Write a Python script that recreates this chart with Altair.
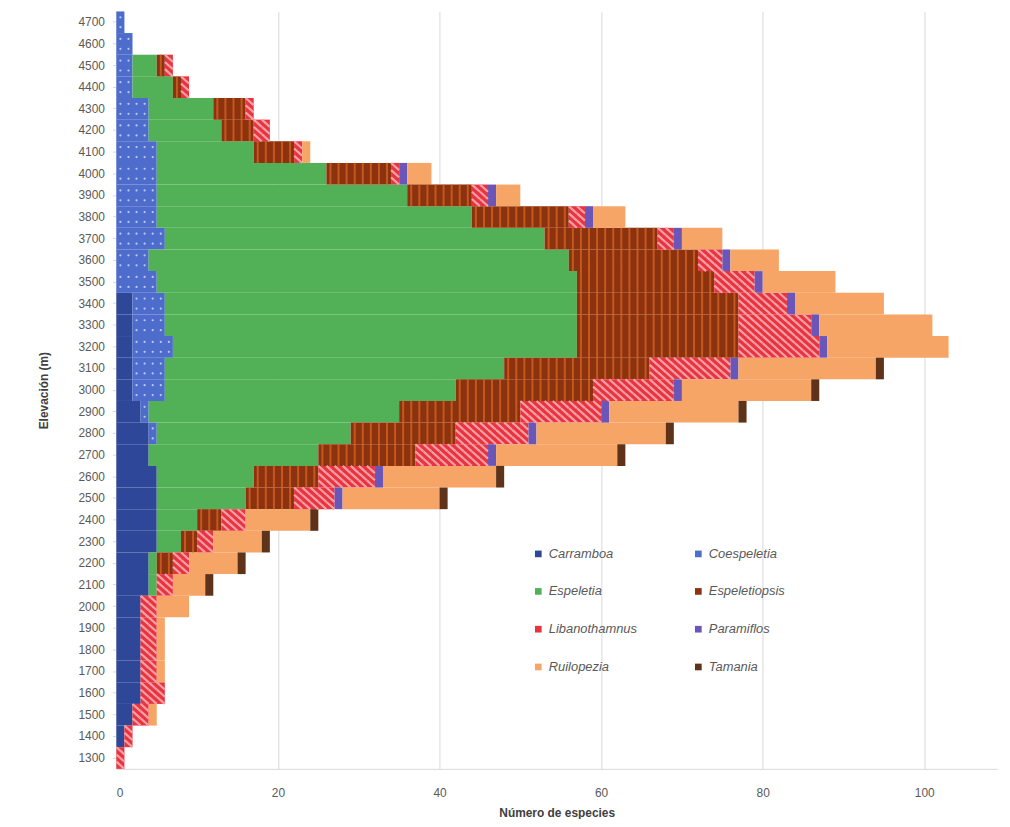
import altair as alt
import pandas as pd

elevations = [4700, 4600, 4500, 4400, 4300, 4200, 4100, 4000, 3900, 3800, 3700, 3600,
              3500, 3400, 3300, 3200, 3100, 3000, 2900, 2800, 2700, 2600, 2500, 2400,
              2300, 2200, 2100, 2000, 1900, 1800, 1700, 1600, 1500, 1400, 1300]

genera = ["Carramboa", "Coespeletia", "Espeletia", "Espeletiopsis",
          "Libanothamnus", "Paramiflos", "Ruilopezia", "Tamania"]
colors = ["#2E4799", "#4D6CCC", "#52B156", "#8C320E",
          "#E8343F", "#6A56B8", "#F6A566", "#5E3319"]

carramboa =     [0, 0, 0, 0, 0, 0, 0, 0, 0, 0, 0, 0, 0, 2, 2, 2, 2, 2, 3, 4, 4, 5, 5, 5, 5, 4, 4, 3, 3, 3, 3, 3, 2, 1, 0]
coespeletia =   [1, 2, 2, 2, 4, 4, 5, 5, 5, 5, 6, 4, 5, 4, 4, 5, 4, 4, 1, 1, 0, 0, 0, 0, 0, 0, 0, 0, 0, 0, 0, 0, 0, 0, 0]
espeletia =     [0, 0, 3, 5, 8, 9, 12, 21, 31, 39, 47, 52, 52, 51, 51, 50, 42, 36, 31, 24, 21, 12, 11, 5, 3, 1, 1, 0, 0, 0, 0, 0, 0, 0, 0]
espeletiopsis = [0, 0, 1, 1, 4, 4, 5, 8, 8, 12, 14, 16, 17, 20, 20, 20, 18, 17, 15, 13, 12, 8, 6, 3, 2, 2, 0, 0, 0, 0, 0, 0, 0, 0, 0]
libanothamnus = [0, 0, 1, 1, 1, 2, 1, 1, 2, 2, 2, 3, 5, 6, 9, 10, 10, 10, 10, 9, 9, 7, 5, 3, 2, 2, 2, 2, 2, 2, 2, 3, 2, 1, 1]
paramiflos =    [0, 0, 0, 0, 0, 0, 0, 1, 1, 1, 1, 1, 1, 1, 1, 1, 1, 1, 1, 1, 1, 1, 1, 0, 0, 0, 0, 0, 0, 0, 0, 0, 0, 0, 0]
ruilopezia =    [0, 0, 0, 0, 0, 0, 1, 3, 3, 4, 5, 6, 9, 11, 14, 15, 17, 16, 16, 16, 15, 14, 12, 8, 6, 6, 4, 4, 1, 1, 1, 0, 1, 0, 0]
tamania =       [0, 0, 0, 0, 0, 0, 0, 0, 0, 0, 0, 0, 0, 0, 0, 0, 1, 1, 1, 1, 1, 1, 1, 1, 1, 1, 1, 0, 0, 0, 0, 0, 0, 0, 0]

series = [carramboa, coespeletia, espeletia, espeletiopsis,
          libanothamnus, paramiflos, ruilopezia, tamania]

BAND = 762 / 35

rows = []
stripe_rows = []
dot_rows = []
hatch_rows = []
for i, elev in enumerate(elevations):
    cum = 0
    for g, vals in zip(genera, series):
        v = vals[i]
        if v > 0:
            rows.append({"elev": elev, "genus": g, "start": cum, "end": cum + v, "n": v})
            for k in range(v):
                c = cum + k + 0.5
                if g == "Espeletiopsis":
                    stripe_rows.append({"elev": elev, "pos": c})
                elif g == "Coespeletia":
                    dot_rows.append({"elev": elev, "pos": c, "off": BAND / 2 - 5})
                    dot_rows.append({"elev": elev, "pos": c, "off": BAND / 2 + 5})
                elif g == "Libanothamnus":
                    for j in (1, 3, 5):
                        hatch_rows.append({"elev": elev, "pos": c, "off": j * BAND / 6})
            cum += v

df = pd.DataFrame(rows)
sdf = pd.DataFrame(stripe_rows)
ddf = pd.DataFrame(dot_rows)
hdf = pd.DataFrame(hatch_rows)

FONT = "Liberation Sans"
x_scale = alt.Scale(domain=[0, 109], nice=False, zero=True)
y_scale = alt.Scale(paddingInner=0, paddingOuter=0)

bars = alt.Chart(df).mark_bar(strokeWidth=0).encode(
    x=alt.X("start:Q", scale=x_scale,
            axis=alt.Axis(values=[0, 20, 40, 60, 80, 100], title="Número de especies",
                          grid=True, gridColor="#D9D9D9", gridWidth=1,
                          domainColor="#D9D9D9", ticks=False,
                          labelColor="#595959", labelFontSize=12, labelFont=FONT,
                          labelPadding=19, titleFont=FONT, titleFontSize=12,
                          titleFontWeight="bold", titleColor="#404040", titlePadding=9)),
    x2="end:Q",
    y=alt.Y("elev:O", sort="descending", scale=y_scale,
            axis=alt.Axis(title="Elevación (m)", ticks=True, tickSize=4, tickColor="#D9D9D9",
                          domainColor="#D9D9D9", labelColor="#595959", labelFontSize=12,
                          labelFont=FONT, labelPadding=8, titleFont=FONT, titleFontSize=12,
                          titleFontWeight="bold", titleColor="#404040", titlePadding=28)),
    color=alt.Color("genus:N", scale=alt.Scale(domain=genera, range=colors),
                    legend=alt.Legend(orient="none", legendX=418, legendY=539, columns=2,
                                      direction="horizontal",
                                      title=None, labelFontStyle="italic", labelColor="#595959",
                                      labelFontSize=13, labelFont=FONT, symbolType="square",
                                      symbolSize=45, symbolStrokeWidth=0, rowPadding=24,
                                      columnPadding=55)),
    order=alt.Order("start:Q"),
)

stripes = alt.Chart(sdf).mark_tick(orient="vertical", thickness=2, size=22,
                                   color="#DC6A28").encode(
    x=alt.X("pos:Q", scale=x_scale),
    y=alt.Y("elev:O", sort="descending", scale=y_scale),
)

dots = alt.Chart(ddf).mark_circle(size=5, color="#C9D4F5", opacity=0.9).encode(
    x=alt.X("pos:Q", scale=x_scale),
    y=alt.Y("elev:O", sort="descending", scale=y_scale),
    yOffset=alt.YOffset("off:Q", scale=None),
)

hatch = alt.Chart(hdf).mark_point(shape="M-1,-0.9L1,0.9", size=64, filled=False,
                                  stroke="#F7A0A8", strokeWidth=2.2, opacity=1).encode(
    x=alt.X("pos:Q", scale=x_scale),
    y=alt.Y("elev:O", sort="descending", scale=y_scale),
    yOffset=alt.YOffset("off:Q", scale=None),
)

chart = alt.layer(bars, stripes, dots, hatch).properties(
    width=886, height=762,
    padding={"left": 109, "top": 1, "right": 5, "bottom": 48},
    autosize=alt.AutoSizeParams(type="none"),
).configure_view(stroke=None)

chart.save("out.html", embed_options={"renderer": "svg", "actions": False})
